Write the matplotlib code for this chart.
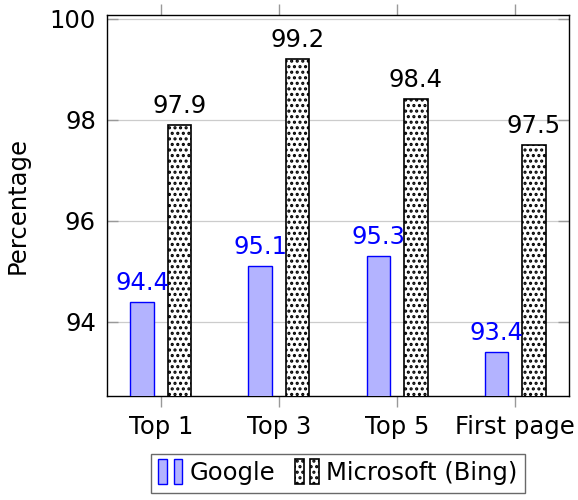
import numpy as np
import matplotlib
matplotlib.use('Agg')
from matplotlib import pyplot as plt
from matplotlib.patches import Rectangle
from matplotlib.legend_handler import HandlerBase

categories = ['Top 1', 'Top 3', 'Top 5', 'First page']
google = [94.4, 95.1, 95.3, 93.4]
bing = [97.9, 99.2, 98.4, 97.5]
yticks = [94, 96, 98, 100]

plt.rcParams['font.family'] = ['DejaVu Sans']
plt.rcParams['hatch.linewidth'] = 1.5
fs = 17.5


class TwoBars(HandlerBase):
    # pgfplots style legend entry: two little bars
    def create_artists(self, legend, orig_handle, xdescent, ydescent,
                       width, height, fontsize, trans):
        bw = width * 0.36
        h = height * 1.45
        y0 = -ydescent + (height - h) / 2
        arts = []
        for x0 in (-xdescent, -xdescent + width - bw):
            r = Rectangle((x0, y0), bw, h,
                          facecolor=orig_handle.get_facecolor(),
                          edgecolor=orig_handle.get_edgecolor(),
                          hatch=orig_handle.get_hatch(),
                          linewidth=orig_handle.get_linewidth(),
                          transform=trans)
            arts.append(r)
        return arts


fig = plt.figure(figsize=(5.78, 5), dpi=100)
ax = fig.add_axes([107/578, 1 - 396/500, (569-107)/578, (396-15)/500])

x = np.arange(len(categories))
w = 0.2
off = 0.158
b1 = ax.bar(x - off, google, w, color='#b3b3ff', edgecolor='#0000ff',
            linewidth=1.0, zorder=3, label='Google')
b2 = ax.bar(x + off, bing, w, color='white', edgecolor='black', hatch='...',
            linewidth=1.2, zorder=3, label='Microsoft (Bing)')

for xi, v in zip(x - off, google):
    ax.annotate('{:.1f}'.format(v), (xi, v), xytext=(0, 5), textcoords='offset points',
                ha='center', va='bottom', color='#0000ff', fontsize=fs)
for xi, v in zip(x + off, bing):
    ax.annotate('{:.1f}'.format(v), (xi, v), xytext=(0, 5), textcoords='offset points',
                ha='center', va='bottom', color='black', fontsize=fs)

ax.set_xlim(-0.455, 3.455)
ax.set_ylim(92.53, 100.07)
ax.set_xticks(x)
ax.set_xticklabels(categories, fontsize=fs)
ax.set_yticks(yticks)
ax.set_yticklabels([str(t) for t in yticks], fontsize=fs)
ax.tick_params(axis='x', direction='out', length=8, width=1, color='#999999',
               top=True, pad=6)
ax.tick_params(axis='y', direction='in', length=8, width=1, color='#999999',
               right=True, pad=8)
ax.yaxis.grid(True, color='#cccccc', linewidth=0.9, zorder=0)
ax.set_axisbelow(True)
for s in ax.spines.values():
    s.set_linewidth(1.0)
ax.set_ylabel('Percentage', fontsize=fs, labelpad=14)

leg = fig.legend(handles=[b1.patches[0], b2.patches[0]],
                 labels=['Google', 'Microsoft (Bing)'],
                 handler_map={Rectangle: TwoBars()},
                 loc='upper center', bbox_to_anchor=(338/578, 1 - 454/500),
                 ncol=2, fontsize=fs, frameon=True, fancybox=False,
                 handlelength=1.0, handletextpad=0.3, columnspacing=0.8,
                 borderpad=0.3, borderaxespad=0)
leg.get_frame().set_edgecolor('#444444')
leg.get_frame().set_linewidth(1.0)

fig.savefig('out.png', dpi=100)
